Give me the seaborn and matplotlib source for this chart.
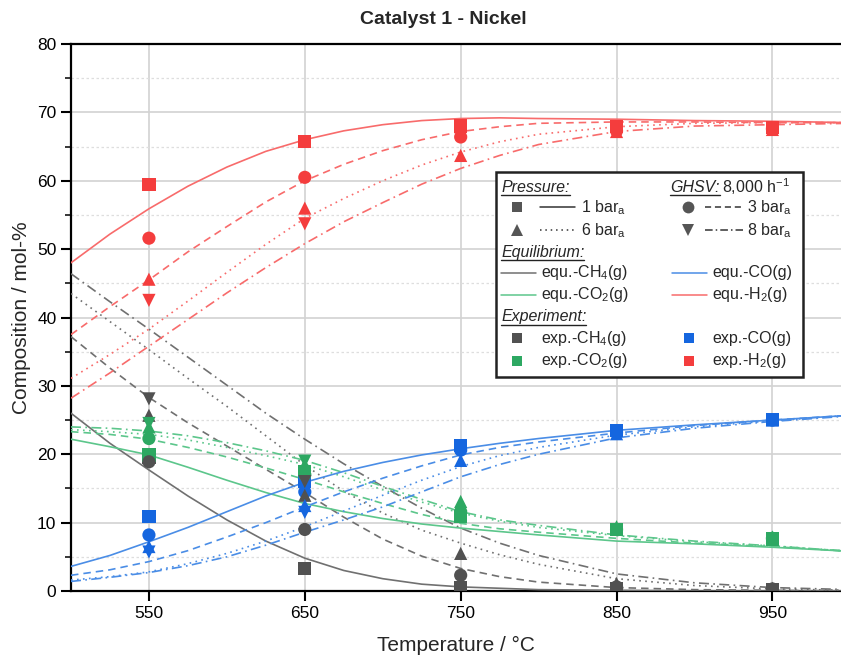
import numpy as np
import pandas as pd
import matplotlib
matplotlib.use("Agg")
import matplotlib.pyplot as plt
import seaborn as sns
from matplotlib.lines import Line2D
from matplotlib.patches import Rectangle
from matplotlib.ticker import MultipleLocator, FixedLocator

# ---------------- data ----------------
T_eq = [500, 525, 550, 575, 600, 625, 650, 675, 700, 725, 750, 775, 800, 850, 900, 950, 1000]

eq_H2_1 = [48.0, 52.2, 55.9, 59.2, 62.0, 64.3, 66.0, 67.3, 68.2, 68.8, 69.1, 69.2, 69.1, 69.0, 68.8, 68.7, 68.5]
eq_H2_3 = [37.5, 41.6, 45.5, 49.6, 53.3, 56.9, 60.0, 62.4, 64.4, 66.0, 67.2, 67.9, 68.4, 68.6, 68.6, 68.5, 68.5]
eq_H2_6 = [31.1, 34.6, 38.3, 42.4, 46.6, 50.7, 54.5, 57.4, 60.0, 62.3, 64.2, 65.7, 66.8, 67.9, 68.4, 68.5, 68.5]
eq_H2_8 = [28.2, 31.9, 35.8, 39.7, 43.6, 47.3, 50.8, 54.0, 56.8, 59.5, 61.8, 63.7, 65.3, 67.2, 68.0, 68.2, 68.4]

eq_CH4_1 = [26.0, 21.6, 17.7, 13.9, 10.4, 7.3, 4.8, 3.0, 1.8, 1.0, 0.6, 0.4, 0.2, 0.1, 0.0, 0.0, 0.0]
eq_CH4_3 = [37.2, 32.6, 28.3, 24.6, 21.2, 17.8, 14.4, 10.8, 7.6, 5.1, 3.3, 2.1, 1.3, 0.5, 0.2, 0.1, 0.0]
eq_CH4_6 = [43.5, 39.4, 35.3, 31.1, 27.0, 22.7, 18.4, 14.6, 11.4, 8.9, 7.0, 5.3, 3.9, 1.8, 0.8, 0.3, 0.1]
eq_CH4_8 = [46.4, 42.3, 38.3, 34.2, 30.1, 26.0, 22.2, 18.6, 15.3, 12.1, 9.2, 7.0, 5.2, 2.5, 1.2, 0.5, 0.2]

eq_CO2_1 = [22.2, 21.1, 19.9, 18.1, 16.2, 14.4, 12.8, 11.6, 10.6, 9.8, 9.2, 8.7, 8.2, 7.3, 6.9, 6.4, 5.8]
eq_CO2_3 = [23.3, 22.9, 22.2, 21.0, 19.6, 18.0, 16.3, 14.5, 12.8, 11.2, 9.9, 9.1, 8.6, 7.7, 7.0, 6.5, 5.8]
eq_CO2_6 = [23.6, 23.3, 22.9, 22.1, 21.0, 19.8, 18.5, 16.7, 14.8, 13.0, 11.4, 10.2, 9.3, 8.1, 7.2, 6.6, 5.8]
eq_CO2_8 = [24.0, 23.8, 23.4, 22.7, 21.7, 20.5, 19.1, 17.3, 15.3, 13.4, 11.6, 10.4, 9.6, 8.2, 7.3, 6.6, 5.8]

eq_CO_1 = [3.6, 5.2, 7.2, 9.3, 11.6, 13.9, 15.9, 17.5, 18.8, 19.9, 20.8, 21.6, 22.3, 23.5, 24.3, 25.0, 25.7]
eq_CO_3 = [2.3, 3.1, 4.3, 5.9, 7.9, 10.0, 12.3, 14.5, 16.5, 18.3, 19.9, 21.0, 21.8, 23.1, 24.2, 25.0, 25.7]
eq_CO_6 = [1.6, 2.1, 2.8, 4.0, 5.5, 7.3, 9.4, 11.7, 14.0, 16.2, 18.2, 19.8, 21.0, 22.8, 24.0, 24.9, 25.7]
eq_CO_8 = [1.4, 2.0, 2.7, 3.7, 5.0, 6.7, 8.6, 10.4, 12.3, 14.5, 16.7, 18.5, 20.0, 22.4, 23.8, 24.8, 25.6]

T_exp = [550, 650, 750, 850, 950]
T_exp8 = [550, 650]

exp_CH4_1 = [19.5, 3.3, 0.5, 0.3, 0.2]
exp_CO2_1 = [19.9, 17.5, 10.9, 9.0, 7.6]
exp_CO_1 = [10.9, 16.0, 21.3, 23.5, 25.1]
exp_H2_1 = [59.5, 65.8, 68.0, 67.9, 67.8]

exp_CH4_3 = [18.9, 9.0, 2.3, 0.6, 0.3]
exp_CO2_3 = [22.3, 17.0, 11.6, 9.0, 7.7]
exp_CO_3 = [8.2, 14.5, 20.6, 23.2, 25.0]
exp_H2_3 = [51.6, 60.5, 66.4, 67.3, 67.6]

exp_CH4_6 = [25.7, 14.0, 5.5, 1.1, 0.4]
exp_CO2_6 = [24.0, 18.5, 13.1, 9.4, 7.9]
exp_CO_6 = [6.5, 12.5, 19.1, 23.0, 25.0]
exp_H2_6 = [45.6, 56.0, 63.7, 67.2, 67.5]

exp_CH4_8 = [28.1, 16.0]
exp_CO2_8 = [24.5, 19.0]
exp_CO_8 = [5.7, 11.5]
exp_H2_8 = [42.5, 53.7]

species = ["CH4", "CO2", "CO", "H2"]
pressures = ["1", "3", "6", "8"]

x_ticks = [550, 650, 750, 850, 950]
y_ticks = [0, 10, 20, 30, 40, 50, 60, 70, 80]

line_colors = {"CH4": "#707070", "CO2": "#5cc68b", "CO": "#4a8de6", "H2": "#f86b6b"}
mark_colors = {"CH4": "#515151", "CO2": "#2da862", "CO": "#1566df", "H2": "#f43d3d"}

# ---------------- tables ----------------
eq_tab = {
    ("CH4", "1"): eq_CH4_1, ("CH4", "3"): eq_CH4_3, ("CH4", "6"): eq_CH4_6, ("CH4", "8"): eq_CH4_8,
    ("CO2", "1"): eq_CO2_1, ("CO2", "3"): eq_CO2_3, ("CO2", "6"): eq_CO2_6, ("CO2", "8"): eq_CO2_8,
    ("CO", "1"): eq_CO_1, ("CO", "3"): eq_CO_3, ("CO", "6"): eq_CO_6, ("CO", "8"): eq_CO_8,
    ("H2", "1"): eq_H2_1, ("H2", "3"): eq_H2_3, ("H2", "6"): eq_H2_6, ("H2", "8"): eq_H2_8,
}
rows = []
for (sp, p), vals in eq_tab.items():
    for t, v in zip(T_eq, vals):
        rows.append({"T": t, "val": v, "species": sp, "p": p})
eq_df = pd.DataFrame(rows)

exp_tab = {
    ("CH4", "1"): exp_CH4_1, ("CO2", "1"): exp_CO2_1, ("CO", "1"): exp_CO_1, ("H2", "1"): exp_H2_1,
    ("CH4", "3"): exp_CH4_3, ("CO2", "3"): exp_CO2_3, ("CO", "3"): exp_CO_3, ("H2", "3"): exp_H2_3,
    ("CH4", "6"): exp_CH4_6, ("CO2", "6"): exp_CO2_6, ("CO", "6"): exp_CO_6, ("H2", "6"): exp_H2_6,
    ("CH4", "8"): exp_CH4_8, ("CO2", "8"): exp_CO2_8, ("CO", "8"): exp_CO_8, ("H2", "8"): exp_H2_8,
}
rows = []
for (sp, p), vals in exp_tab.items():
    ts = T_exp8 if p == "8" else T_exp
    for t, v in zip(ts, vals):
        rows.append({"T": t, "val": v, "species": sp, "p": p})
exp_df = pd.DataFrame(rows)

# ---------------- style ----------------
sns.set_style("white")
plt.rcParams["font.family"] = ["Liberation Sans", "DejaVu Sans"]
plt.rcParams["mathtext.fontset"] = "custom"
plt.rcParams["mathtext.rm"] = "Liberation Sans"
plt.rcParams["mathtext.it"] = "Liberation Sans:italic"

W, H = 841, 655
fig = plt.figure(figsize=(W / 100, H / 100), dpi=100)
AX_L, AX_R, AX_T, AX_B = 71, 841, 44, 591
ax = fig.add_axes([AX_L / W, 1 - AX_B / H, (AX_R - AX_L) / W, (AX_B - AX_T) / H])

dashes = {"1": "", "3": (4.5, 3), "6": (1, 2.6), "8": (6, 2.6, 1, 2.6)}
sns.lineplot(data=eq_df, x="T", y="val", hue="species", style="p",
             palette=line_colors, dashes=dashes, estimator=None, sort=False,
             linewidth=1.2, legend=False, ax=ax, zorder=3)

markers = {"1": "s", "3": "o", "6": "^", "8": "v"}
sns.scatterplot(data=exp_df, x="T", y="val", hue="species", style="p",
                palette=mark_colors, markers=markers, s=90, linewidth=0,
                legend=False, ax=ax, zorder=4)

ax.set_xlim(500, 994)
ax.set_ylim(0, 80)
ax.xaxis.set_major_locator(FixedLocator(x_ticks))
ax.yaxis.set_major_locator(FixedLocator(y_ticks))
ax.yaxis.set_minor_locator(MultipleLocator(5))
ax.grid(True, which="major", color="#d2d2d2", lw=1.2, zorder=0)
ax.yaxis.grid(True, which="minor", color="#dedede", lw=0.9, ls=(0, (2, 2)), zorder=0)
ax.set_axisbelow(True)
for s in ["left", "bottom", "top"]:
    ax.spines[s].set_color("black")
    ax.spines[s].set_linewidth(1.6)
ax.spines["right"].set_visible(False)
ax.tick_params(axis="both", which="major", direction="out", length=7, width=1.5,
               labelsize=12.5, colors="black", left=True, bottom=True)
ax.tick_params(axis="y", which="minor", direction="out", length=4, width=1.3, left=True)
ax.set_xlabel("Temperature / \u00b0C", fontsize=15, labelpad=11)
ax.set_ylabel("Composition / mol-%", fontsize=15, labelpad=4)
fig.text(443 / W, 1 - 20 / H, "Catalyst 1 - Nickel", ha="center", va="center",
         fontsize=14, fontweight="bold")

# ---------------- custom legend ----------------
def ax_x(px):
    return (px - AX_L) / (AX_R - AX_L)

def ax_y(py):
    return (AX_B - py) / (AX_B - AX_T)

tr = ax.transAxes
fs = 11.5
box = Rectangle((ax_x(496), ax_y(377)), ax_x(803) - ax_x(496), ax_y(172) - ax_y(377),
                transform=tr, facecolor="white", edgecolor="#222222", lw=1.8, zorder=10)
ax.add_patch(box)

def txt(px, py, s, **kw):
    return ax.text(ax_x(px), ax_y(py), s, transform=tr, va="center", ha="left",
                   fontsize=fs, zorder=12, **kw)

def mk(px, py, m, c, ms=7.5):
    ax.add_line(Line2D([ax_x(px)], [ax_y(py)], transform=tr, marker=m, color=c,
                       markersize=ms, markeredgewidth=0, zorder=12, ls="none"))

def ln(px0, px1, py, c, dash):
    l = Line2D([ax_x(px0), ax_x(px1)], [ax_y(py)] * 2, transform=tr, color=c, lw=1.1, zorder=12)
    if dash:
        l.set_dashes(dash)
    ax.add_line(l)

heads = []
heads.append(txt(501, 187, "Pressure:", style="italic"))
heads.append(txt(670, 187, "GHSV:", style="italic"))
ghsv_val = txt(722, 187, "8,000 h$^{\\mathregular{-1}}$")
heads.append(txt(501, 252, "Equilibrium:", style="italic"))
heads.append(txt(501, 317, "Experiment:", style="italic"))

grey = "#555555"
mk(517, 207, "s", grey, 7)
ln(540, 575, 207, "#333333", None)
txt(581, 208, "1 bar$_{\\mathregular{a}}$")
mk(688, 207, "o", grey, 8.5)
ln(705, 743, 207, "#333333", (4, 2.5))
txt(747, 208, "3 bar$_{\\mathregular{a}}$")
mk(517, 230, "^", grey, 8.5)
ln(540, 576, 230, "#333333", (1, 2.5))
txt(581, 231, "6 bar$_{\\mathregular{a}}$")
mk(688, 230, "v", grey, 8.5)
ln(705, 743, 230, "#333333", (5, 2, 1, 2))
txt(747, 231, "8 bar$_{\\mathregular{a}}$")

ln(501, 536, 273, line_colors["CH4"], None)
txt(541, 273, "equ.-CH$_{\\mathregular{4}}$(g)")
ln(672, 707, 273, line_colors["CO"], None)
txt(712, 273, "equ.-CO(g)")
ln(501, 536, 295, line_colors["CO2"], None)
txt(541, 295, "equ.-CO$_{\\mathregular{2}}$(g)")
ln(672, 707, 295, line_colors["H2"], None)
txt(712, 295, "equ.-H$_{\\mathregular{2}}$(g)")

mk(517, 338, "s", mark_colors["CH4"], 7)
txt(541, 338, "exp.-CH$_{\\mathregular{4}}$(g)")
mk(689, 338, "s", mark_colors["CO"], 7)
txt(712, 338, "exp.-CO(g)")
mk(517, 361, "s", mark_colors["CO2"], 7)
txt(541, 361, "exp.-CO$_{\\mathregular{2}}$(g)")
mk(689, 361, "s", mark_colors["H2"], 7)
txt(712, 361, "exp.-H$_{\\mathregular{2}}$(g)")

fig.canvas.draw()
rend = fig.canvas.get_renderer()
inv = tr.inverted()
for t in heads:
    bb = t.get_window_extent(rend)
    (x0, y0), (x1, _) = inv.transform([[bb.x0, bb.y0 - 0.5], [bb.x1, bb.y0]])
    ax.add_line(Line2D([x0, x1], [y0, y0], transform=tr, color="#222222", lw=1.0, zorder=12))

fig.savefig("out.png", dpi=100)
